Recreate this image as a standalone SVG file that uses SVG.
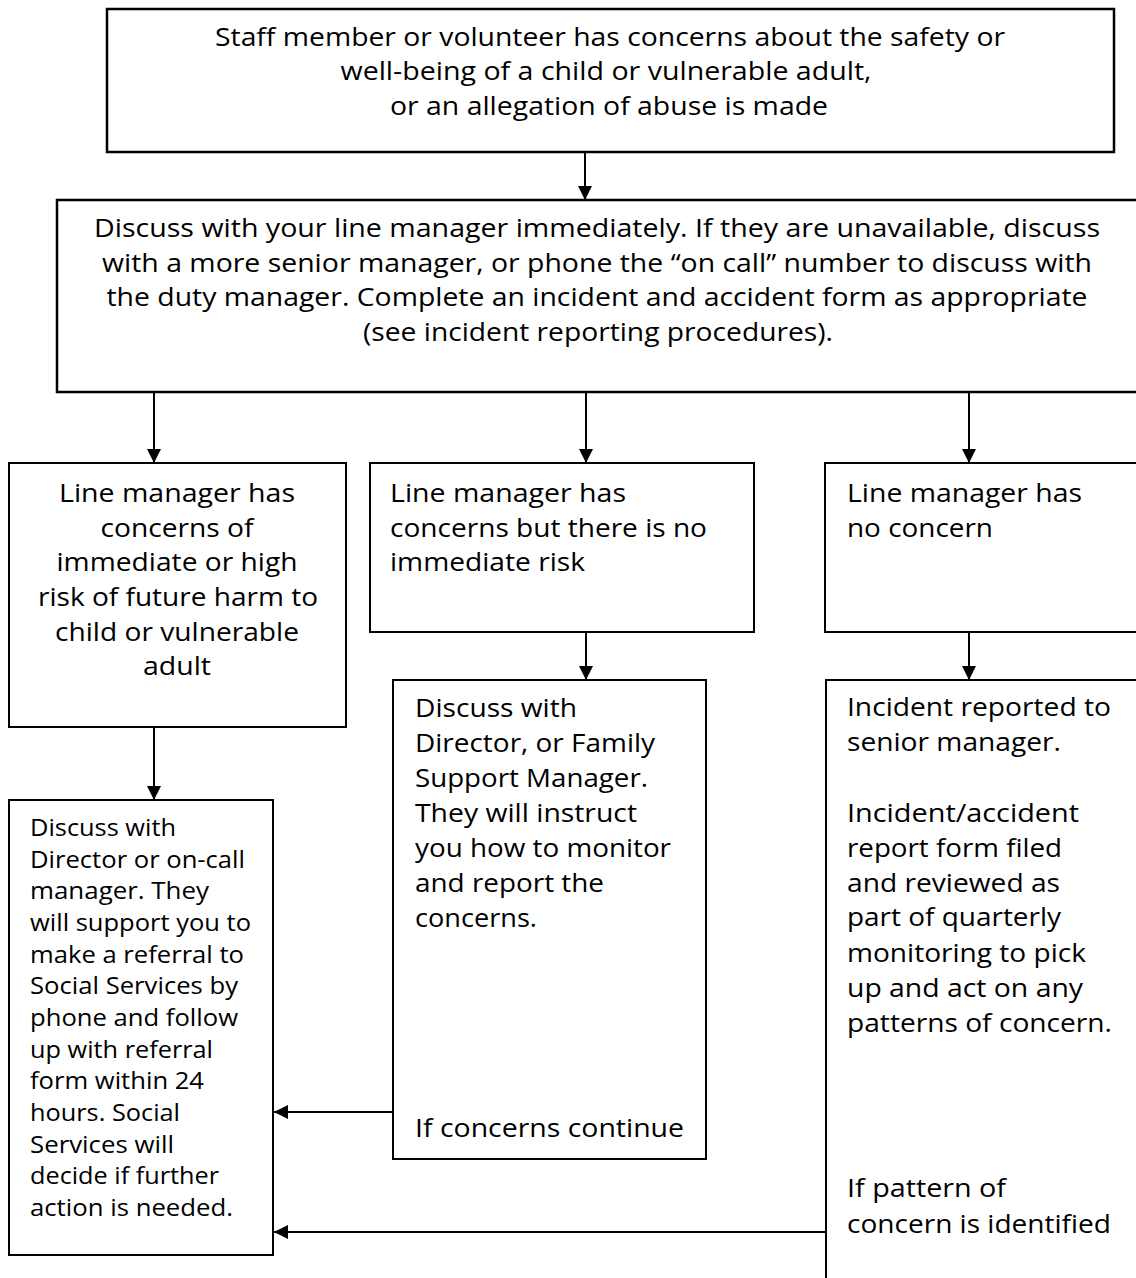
<svg xmlns="http://www.w3.org/2000/svg" width="1136" height="1278" viewBox="0 0 1136 1278">
<style>
.box{fill:#fff;stroke:#000;stroke-width:2}
.bx2{fill:#fff;stroke:#000;stroke-width:2.5}
.t{font-family:"Open Sans","Noto Sans","Liberation Sans",sans-serif;font-size:26px;fill:#000}
.s{font-size:24px}
.c{text-anchor:middle}
.ln{stroke:#000;stroke-width:2;fill:none;marker-end:url(#ah)}
</style>
<defs>
<marker id="ah" viewBox="0 0 10 10" refX="10" refY="5" markerUnits="userSpaceOnUse" markerWidth="18" markerHeight="14" orient="auto">
<path d="M0,0 L10,5 L0,10 z" fill="#000"/>
</marker>
</defs>
<rect width="1136" height="1278" fill="#fff"/>

<g id="connectors">
<line class="ln" x1="585" y1="152" x2="585" y2="200"/>
<line class="ln" x1="154" y1="392" x2="154" y2="463"/>
<line class="ln" x1="586" y1="392" x2="586" y2="463"/>
<line class="ln" x1="969" y1="392" x2="969" y2="463"/>
<line class="ln" x1="586" y1="632" x2="586" y2="680"/>
<line class="ln" x1="969" y1="632" x2="969" y2="680"/>
<line class="ln" x1="154" y1="727" x2="154" y2="800"/>
<line class="ln" x1="393" y1="1112" x2="274" y2="1112"/>
<line class="ln" x1="826" y1="1232" x2="274" y2="1232"/>
</g>

<g id="n1">
<rect class="bx2" x="107" y="9" width="1007" height="143"/>
<text class="t c" x="610" y="46" textLength="790" lengthAdjust="spacingAndGlyphs">Staff member or volunteer has concerns about the safety or</text>
<text class="t c" x="606" y="80" textLength="531" lengthAdjust="spacingAndGlyphs">well-being of a child or vulnerable adult,</text>
<text class="t c" x="609" y="115" textLength="438" lengthAdjust="spacingAndGlyphs">or an allegation of abuse is made</text>
</g>

<g id="n2">
<rect class="bx2" x="57" y="200" width="1100" height="192"/>
<text class="t c" x="597" y="237" textLength="1006" lengthAdjust="spacingAndGlyphs">Discuss with your line manager immediately. If they are unavailable, discuss</text>
<text class="t c" x="597" y="272" textLength="990" lengthAdjust="spacingAndGlyphs">with a more senior manager, or phone the “on call” number to discuss with</text>
<text class="t c" x="597" y="306" textLength="981" lengthAdjust="spacingAndGlyphs">the duty manager. Complete an incident and accident form as appropriate</text>
<text class="t c" x="598" y="341" textLength="470" lengthAdjust="spacingAndGlyphs">(see incident reporting procedures).</text>
</g>

<g id="n3">
<rect class="box" x="9" y="463" width="337" height="264"/>
<text class="t c" x="177" y="502" textLength="236" lengthAdjust="spacingAndGlyphs">Line manager has</text>
<text class="t c" x="177" y="537" textLength="153" lengthAdjust="spacingAndGlyphs">concerns of</text>
<text class="t c" x="177" y="571" textLength="241" lengthAdjust="spacingAndGlyphs">immediate or high</text>
<text class="t c" x="178" y="606" textLength="280" lengthAdjust="spacingAndGlyphs">risk of future harm to</text>
<text class="t c" x="177" y="641" textLength="244" lengthAdjust="spacingAndGlyphs">child or vulnerable</text>
<text class="t c" x="177" y="675" textLength="68" lengthAdjust="spacingAndGlyphs">adult</text>
</g>

<g id="n4">
<rect class="box" x="370" y="463" width="384" height="169"/>
<text class="t" x="390" y="502" textLength="236" lengthAdjust="spacingAndGlyphs">Line manager has</text>
<text class="t" x="390" y="537" textLength="317" lengthAdjust="spacingAndGlyphs">concerns but there is no</text>
<text class="t" x="390" y="571" textLength="195" lengthAdjust="spacingAndGlyphs">immediate risk</text>
</g>

<g id="n5">
<rect class="box" x="825" y="463" width="400" height="169"/>
<text class="t" x="847" y="502" textLength="235" lengthAdjust="spacingAndGlyphs">Line manager has</text>
<text class="t" x="847" y="537" textLength="146" lengthAdjust="spacingAndGlyphs">no concern</text>
</g>

<g id="n6">
<rect class="box" x="393" y="680" width="313" height="479"/>
<text class="t" x="415" y="717" textLength="162" lengthAdjust="spacingAndGlyphs">Discuss with</text>
<text class="t" x="415" y="752" textLength="240" lengthAdjust="spacingAndGlyphs">Director, or Family</text>
<text class="t" x="415" y="787" textLength="233" lengthAdjust="spacingAndGlyphs">Support Manager.</text>
<text class="t" x="415" y="822" textLength="222" lengthAdjust="spacingAndGlyphs">They will instruct</text>
<text class="t" x="415" y="857" textLength="256" lengthAdjust="spacingAndGlyphs">you how to monitor</text>
<text class="t" x="415" y="892" textLength="189" lengthAdjust="spacingAndGlyphs">and report the</text>
<text class="t" x="415" y="927" textLength="122" lengthAdjust="spacingAndGlyphs">concerns.</text>
<text class="t" x="415" y="1137" textLength="269" lengthAdjust="spacingAndGlyphs">If concerns continue</text>
</g>

<g id="n7">
<rect class="box" x="826" y="680" width="400" height="700"/>
<text class="t" x="847" y="716" textLength="264" lengthAdjust="spacingAndGlyphs">Incident reported to</text>
<text class="t" x="847" y="751" textLength="214" lengthAdjust="spacingAndGlyphs">senior manager.</text>
<text class="t" x="847" y="822" textLength="232" lengthAdjust="spacingAndGlyphs">Incident/accident</text>
<text class="t" x="847" y="857" textLength="215" lengthAdjust="spacingAndGlyphs">report form filed</text>
<text class="t" x="847" y="892" textLength="213" lengthAdjust="spacingAndGlyphs">and reviewed as</text>
<text class="t" x="847" y="926" textLength="214" lengthAdjust="spacingAndGlyphs">part of quarterly</text>
<text class="t" x="847" y="962" textLength="239" lengthAdjust="spacingAndGlyphs">monitoring to pick</text>
<text class="t" x="847" y="997" textLength="236" lengthAdjust="spacingAndGlyphs">up and act on any</text>
<text class="t" x="847" y="1032" textLength="265" lengthAdjust="spacingAndGlyphs">patterns of concern.</text>
<text class="t" x="847" y="1197" textLength="159" lengthAdjust="spacingAndGlyphs">If pattern of</text>
<text class="t" x="847" y="1233" textLength="264" lengthAdjust="spacingAndGlyphs">concern is identified</text>
</g>

<g id="n8">
<rect class="box" x="9" y="800" width="264" height="455"/>
<text class="t s" x="30" y="836" textLength="146" lengthAdjust="spacingAndGlyphs">Discuss with</text>
<text class="t s" x="30" y="868" textLength="215" lengthAdjust="spacingAndGlyphs">Director or on-call</text>
<text class="t s" x="30" y="899" textLength="179" lengthAdjust="spacingAndGlyphs">manager. They</text>
<text class="t s" x="30" y="931" textLength="221" lengthAdjust="spacingAndGlyphs">will support you to</text>
<text class="t s" x="30" y="963" textLength="214" lengthAdjust="spacingAndGlyphs">make a referral to</text>
<text class="t s" x="30" y="994" textLength="208" lengthAdjust="spacingAndGlyphs">Social Services by</text>
<text class="t s" x="30" y="1026" textLength="208" lengthAdjust="spacingAndGlyphs">phone and follow</text>
<text class="t s" x="30" y="1058" textLength="183" lengthAdjust="spacingAndGlyphs">up with referral</text>
<text class="t s" x="30" y="1089" textLength="174" lengthAdjust="spacingAndGlyphs">form within 24</text>
<text class="t s" x="30" y="1121" textLength="150" lengthAdjust="spacingAndGlyphs">hours. Social</text>
<text class="t s" x="30" y="1153" textLength="144" lengthAdjust="spacingAndGlyphs">Services will</text>
<text class="t s" x="30" y="1184" textLength="189" lengthAdjust="spacingAndGlyphs">decide if further</text>
<text class="t s" x="30" y="1216" textLength="203" lengthAdjust="spacingAndGlyphs">action is needed.</text>
</g>
</svg>
